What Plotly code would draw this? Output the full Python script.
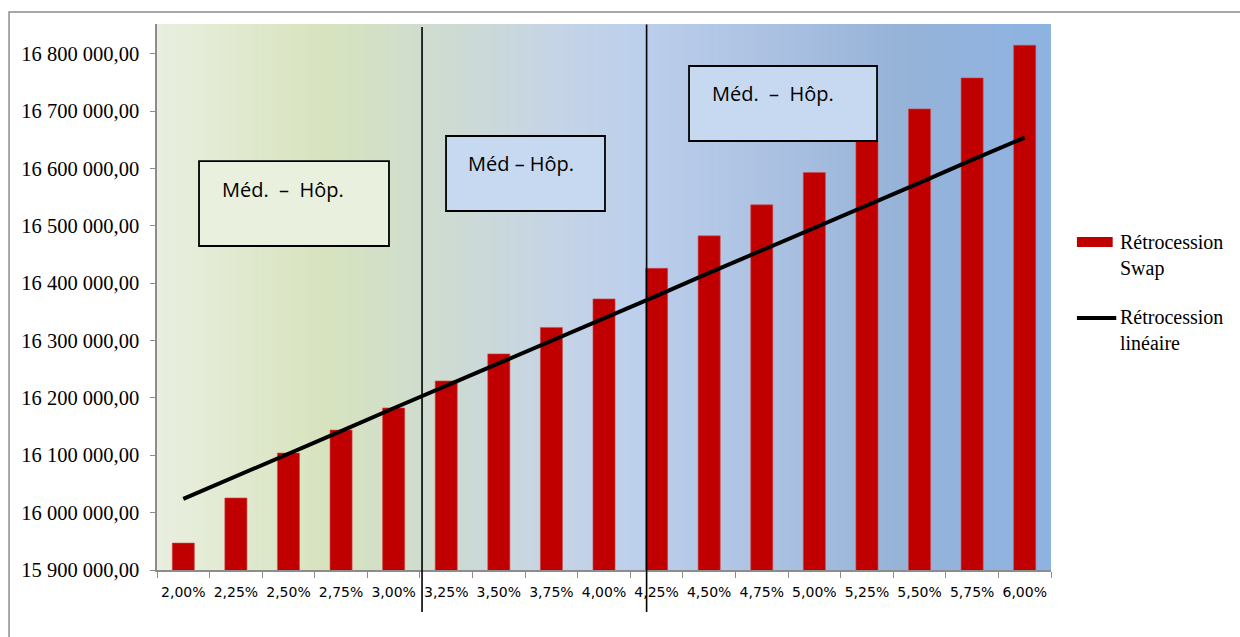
import plotly.graph_objects as go

# Taux (catégories de l'axe horizontal)
taux = ["2,00%", "2,25%", "2,50%", "2,75%", "3,00%", "3,25%", "3,50%", "3,75%", "4,00%",
        "4,25%", "4,50%", "4,75%", "5,00%", "5,25%", "5,50%", "5,75%", "6,00%"]

# Rétrocession Swap (barres)
retro_swap = [15947000, 16025600, 16104000, 16144000, 16182600, 16229700, 16276800, 16323000,
              16372700, 16426000, 16482600, 16536700, 16593000, 16649000, 16704000, 16758000,
              16815000]

# Rétrocession linéaire (droite)
retro_lineaire = [16024000, 16063000, 16103000, 16142000, 16182000, 16221000, 16260000,
                  16300000, 16339000, 16378000, 16418000, 16457000, 16497000, 16536000,
                  16575000, 16615000, 16654000]

# Graduations de l'axe vertical
y_ticks = [15900000, 16000000, 16100000, 16200000, 16300000, 16400000, 16500000, 16600000,
           16700000, 16800000]
y_tick_labels = ["15 900 000,00", "16 000 000,00", "16 100 000,00", "16 200 000,00",
                 "16 300 000,00", "16 400 000,00", "16 500 000,00", "16 600 000,00",
                 "16 700 000,00", "16 800 000,00"]

# Libellés des zones
zone_labels = ["Méd.\u00a0\u00a0–\u00a0\u00a0Hôp.", "Méd – Hôp.", "Méd.\u00a0\u00a0–\u00a0\u00a0Hôp."]

SERIF = "Liberation Serif, Times New Roman, serif"
SANS = "DejaVu Sans, Verdana, sans-serif"
BOX_FONT = "Open Sans, Noto Sans, sans-serif"

fig = go.Figure()
fig.add_trace(go.Bar(
    x=taux, y=retro_swap, name="Rétrocession Swap",
    marker=dict(color="#c00000", line=dict(color="#d44a4a", width=0.6)),
    showlegend=False,
))
fig.add_trace(go.Scatter(
    x=taux, y=retro_lineaire, name="Rétrocession linéaire", mode="lines",
    line=dict(color="black", width=4), showlegend=False,
))

shapes = []

# Fond en dégradé horizontal (vert pâle vers bleu)
stops = [(0.00, (233, 239, 223)), (0.19, (215, 227, 190)), (0.29, (208, 221, 205)),
         (0.45, (197, 212, 230)), (0.54, (188, 207, 236)), (0.67, (174, 195, 227)),
         (0.83, (150, 179, 216)), (1.00, (141, 179, 226))]


def grad_color(t):
    for (t0, c0), (t1, c1) in zip(stops[:-1], stops[1:]):
        if t0 <= t <= t1:
            f = (t - t0) / (t1 - t0)
            return "rgb(%d,%d,%d)" % tuple(round(a + (b - a) * f) for a, b in zip(c0, c1))
    return "rgb(%d,%d,%d)" % stops[-1][1]


n = 180
for i in range(n):
    x0 = i / n
    x1 = (i + 1) / n + 0.002
    shapes.append(dict(type="rect", xref="paper", yref="paper", x0=x0, x1=min(x1, 1),
                       y0=0, y1=1, fillcolor=grad_color((i + 0.5) / n),
                       line=dict(width=0), layer="below"))

# Cadre extérieur
shapes.append(dict(type="rect", xref="paper", yref="paper", x0=-0.1655, x1=1.22,
                   y0=-0.14, y1=1.022, line=dict(color="#8c8c8c", width=1.5),
                   fillcolor="rgba(0,0,0,0)", layer="below"))

# Séparateurs verticaux des zones
for xv, ytop in [(4.54, 0.9945), (8.81, 0.999)]:
    shapes.append(dict(type="line", xref="x", yref="paper", x0=xv, x1=xv,
                       y0=-0.077, y1=ytop, line=dict(color="black", width=1.6)))

# Encadrés des zones
boxes = [(0.047, 0.2595, 0.5934, 0.749, "#e9f0dd"),
         (0.3233, 0.5011, 0.6575, 0.7949, "#c6d9f0"),
         (0.5951, 0.8054, 0.7857, 0.9231, "#c6d9f0")]
for x0, x1, y0, y1, col in boxes:
    shapes.append(dict(type="rect", xref="paper", yref="paper", x0=x0, x1=x1, y0=y0, y1=y1,
                       fillcolor=col, line=dict(color="black", width=1.8)))

# Légende personnalisée
shapes.append(dict(type="rect", xref="paper", yref="paper", x0=1.029, x1=1.069,
                   y0=0.5916, y1=0.6099, fillcolor="#c00000", line=dict(width=0)))
shapes.append(dict(type="line", xref="paper", yref="paper", x0=1.029, x1=1.073,
                   y0=0.4615, y1=0.4615, line=dict(color="black", width=4)))

annotations = []
for (x, y), txt in zip([(0.0705, 0.696), (0.3455, 0.7454), (0.6185, 0.8736)], zone_labels):
    annotations.append(dict(xref="paper", yref="paper", x=x, y=y, text=txt, showarrow=False,
                            xanchor="left", yanchor="middle",
                            font=dict(family=BOX_FONT, size=20, color="black")))

annotations.append(dict(xref="paper", yref="paper", x=1.075, y=0.625,
                        text="Rétrocession<br>Swap", showarrow=False, align="left",
                        xanchor="left", yanchor="top",
                        font=dict(family=SERIF, size=20, color="black")))
annotations.append(dict(xref="paper", yref="paper", x=1.075, y=0.4875,
                        text="Rétrocession<br>linéaire", showarrow=False, align="left",
                        xanchor="left", yanchor="top",
                        font=dict(family=SERIF, size=20, color="black")))

fig.update_layout(
    width=1240, height=637,
    margin=dict(l=157, r=189, t=24, b=67),
    paper_bgcolor="white",
    plot_bgcolor="white",
    bargap=0.58,
    shapes=shapes,
    annotations=annotations,
    xaxis=dict(
        type="category", tickson="boundaries", ticks="outside", ticklen=6,
        tickcolor="#8c8c8c", tickwidth=1.2, showline=True, linecolor="#8c8c8c",
        linewidth=1.5, showgrid=False, zeroline=False, ticklabelstandoff=8,
        tickangle=0,
        tickfont=dict(family=SANS, size=14, color="black"),
    ),
    yaxis=dict(
        range=[15900000, 16852000], tickvals=y_ticks, ticktext=y_tick_labels,
        ticks="outside", ticklen=5, tickcolor="#8c8c8c", tickwidth=1.2,
        showline=True, linecolor="#8c8c8c", linewidth=1.5, showgrid=False,
        zeroline=False, ticklabelstandoff=7,
        tickfont=dict(family=SERIF, size=20.5, color="black"),
    ),
)

fig.write_html("out.html")
